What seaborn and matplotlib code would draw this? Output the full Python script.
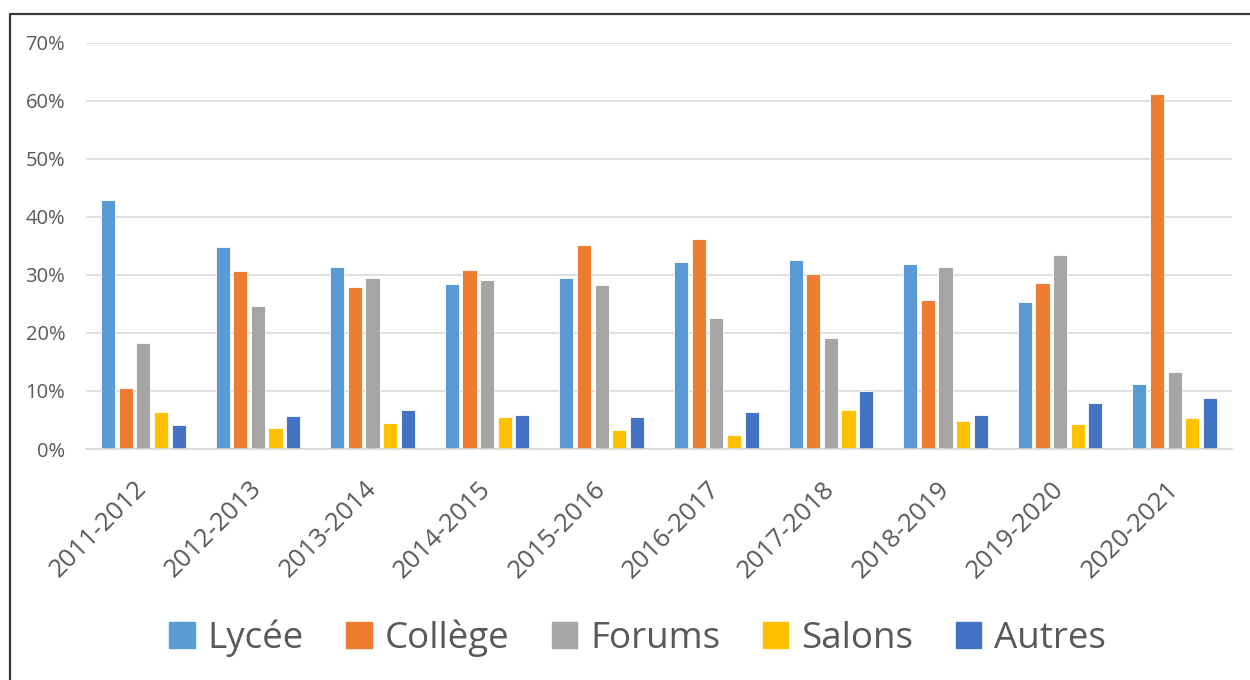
import matplotlib
matplotlib.use("Agg")
import matplotlib.pyplot as plt
from matplotlib.lines import Line2D
from matplotlib.ticker import FuncFormatter
import pandas as pd
import seaborn as sns

# school years
years = ['2011-2012', '2012-2013', '2013-2014', '2014-2015', '2015-2016',
         '2016-2017', '2017-2018', '2018-2019', '2019-2020', '2020-2021']

# share per channel (%)
lycee = [42.9, 34.8, 31.3, 28.4, 29.5, 32.2, 32.6, 31.9, 25.4, 11.2]
college = [10.6, 30.7, 27.9, 30.9, 35.1, 36.2, 30.2, 25.7, 28.6, 61.2]
forums = [18.2, 24.6, 29.5, 29.1, 28.2, 22.5, 19.1, 31.4, 33.4, 13.2]
salons = [6.3, 3.7, 4.4, 5.5, 3.2, 2.4, 6.7, 4.8, 4.3, 5.3]
autres = [4.1, 5.7, 6.7, 5.9, 5.5, 6.4, 10.0, 5.9, 8.0, 8.8]

series = ['Lycée', 'Collège', 'Forums', 'Salons', 'Autres']
colors = ['#5B9BD5', '#ED7D31', '#A5A5A5', '#FFC000', '#4472C4']

rows = []
for name, vals in zip(series, [lycee, college, forums, salons, autres]):
    for yr, v in zip(years, vals):
        rows.append({'Year': yr, 'Type': name, 'Value': v})
df = pd.DataFrame(rows)

sns.set_theme(style='white')
plt.rcParams['font.family'] = ['Open Sans', 'DejaVu Sans']

fig = plt.figure(figsize=(12.5, 6.8), dpi=100)
ax = fig.add_axes([0.0688, 0.3397, 0.9168, 0.5971])

sns.barplot(data=df, x='Year', y='Value', hue='Type', order=years,
            hue_order=series, palette=colors, saturation=1, width=0.77, gap=0.2,
            edgecolor='white', linewidth=0.6, ax=ax)

ax.set_ylim(0, 70)
ax.set_yticks(range(0, 71, 10))
ax.yaxis.set_major_formatter(FuncFormatter(lambda v, p: f"{int(v)}%"))
ax.grid(axis='y', color='#D9D9D9', linewidth=1.2)
ax.set_axisbelow(True)
for s in ['top', 'right', 'left']:
    ax.spines[s].set_visible(False)
ax.spines['bottom'].set_color('#D9D9D9')
ax.spines['bottom'].set_linewidth(1.2)
ax.set_xlabel('')
ax.set_ylabel('')
ax.tick_params(axis='y', length=0, pad=15, labelsize=14.5, labelcolor='#595959')
ax.tick_params(axis='x', length=0, pad=26, labelsize=18.5, labelcolor='#595959')
for lbl in ax.get_xticklabels():
    lbl.set_rotation(45)
    lbl.set_ha('right')
    lbl.set_va('center')
    lbl.set_rotation_mode('anchor')

ax.get_legend().remove()
handles = [plt.Rectangle((0, 0), 1, 1, color=c) for c in colors]
fig.legend(handles, series, loc='center', bbox_to_anchor=(0.51, 0.062),
           ncol=5, frameon=False, fontsize=26.5, labelcolor='#595959',
           handlelength=0.7, handleheight=0.7, handletextpad=0.35,
           columnspacing=1.15)

# outer frame (left and top edges)
fig.add_artist(Line2D([10 / 1250, 10 / 1250, 1.0], [0.0, 1 - 14 / 680, 1 - 14 / 680],
                      transform=fig.transFigure, color='#3A3A3A', linewidth=1.6))

fig.savefig('out.png', dpi=100)
